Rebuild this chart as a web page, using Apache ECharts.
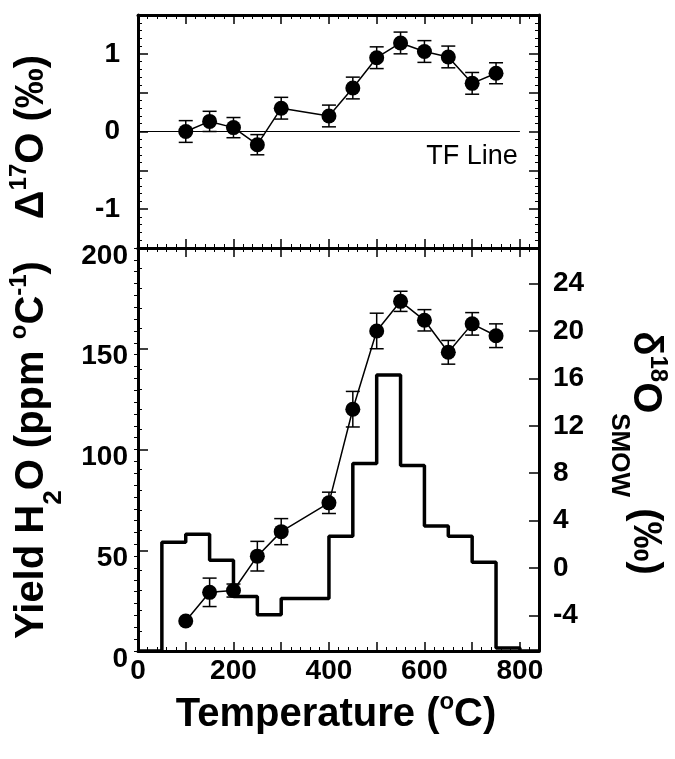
<!DOCTYPE html>
<html>
<head>
<meta charset="utf-8">
<script src="https://cdn.jsdelivr.net/npm/echarts@6/dist/echarts.min.js"></script>
<style>
  html, body { margin: 0; padding: 0; background: #fff; }
  #chart { width: 675px; height: 759px; }
</style>
</head>
<body>
<div id="chart"></div>
<script>
// step temperatures (°C)
const temps = [100, 150, 200, 250, 300, 400, 450, 500, 550, 600, 650, 700, 750];
// Δ17O (‰) and its error
const d17 = [0.00, 0.13, 0.05, -0.17, 0.30, 0.20, 0.56, 0.95, 1.14, 1.03, 0.96, 0.62, 0.75];
const d17Err = [0.14, 0.13, 0.13, 0.13, 0.14, 0.14, 0.14, 0.14, 0.14, 0.14, 0.14, 0.14, 0.135];
// δ18O SMOW (‰) and its error
const d18 = [-4.47, -2.05, -1.9, 1.0, 3.07, 5.5, 13.4, 20.0, 22.5, 20.9, 18.2, 20.6, 19.6];
const d18Err = [0, 1.2, 0.55, 1.25, 1.1, 0.9, 1.5, 1.5, 0.85, 0.9, 1.0, 0.95, 1.0];
// water yield histogram, bin starts (°C) and yield (ppm/°C)
const histTemp = [0, 50, 100, 150, 200, 250, 300, 400, 450, 500, 550, 600, 650, 700, 750, 800, 840];
const histYield = [0, 54, 58, 45, 27, 18, 26, 57, 93, 137, 92, 62, 57, 44, 1.5, 0, 0];
// terrestrial fractionation line
const tfLine = [[0, 0], [800, 0]];
// right axis tick labels
const d18Ticks = [-4, 0, 4, 8, 12, 16, 20, 24];
const d18Minor = [];
for (let v = -7; v <= 27; v++) d18Minor.push(v);

const FONT = "'Liberation Sans', Arial, sans-serif";
const chart = echarts.init(document.getElementById('chart'));

const lineW = 3;
const tickFont = { color: '#000', fontFamily: FONT, fontWeight: 'bold', fontSize: 28 };

function xAx(grid, pos, labels) {
  return {
    gridIndex: grid, type: 'value', position: pos, min: 0, max: 840, interval: 100,
    axisLine: { show: true, onZero: false, lineStyle: { color: '#000', width: lineW } },
    axisTick: { show: true, inside: true, length: 9, lineStyle: { color: '#000', width: 1.5 } },
    minorTick: { show: true, splitNumber: 5, length: 4, lineStyle: { color: '#000', width: 1 } },
    splitLine: { show: false },
    axisLabel: Object.assign({
      show: labels, margin: 6, showMaxLabel: false,
      formatter: v => (v % 200 === 0 ? String(v) : '')
    }, tickFont)
  };
}

// error bar renderer
function errBars(params, api) {
  const x = api.value(0), y = api.value(1), e = api.value(2);
  if (!e) return null;
  const top = api.coord([x, y + e]);
  const bot = api.coord([x, y - e]);
  const h = 7;
  const st = { stroke: '#000', lineWidth: 1.5 };
  return {
    type: 'group',
    children: [
      { type: 'line', shape: { x1: top[0], y1: top[1], x2: bot[0], y2: bot[1] }, style: st },
      { type: 'line', shape: { x1: top[0] - h, y1: top[1], x2: top[0] + h, y2: top[1] }, style: st },
      { type: 'line', shape: { x1: bot[0] - h, y1: bot[1], x2: bot[0] + h, y2: bot[1] }, style: st }
    ]
  };
}

function makeRich(subShift) {
  return {
    b: { fontSize: 40, fontWeight: 'bold', fontFamily: FONT, verticalAlign: 'middle' },
    sup: { fontSize: 24, fontWeight: 'bold', fontFamily: FONT, verticalAlign: 'middle', padding: [0, 0, 26, 0] },
    sub: { fontSize: 26, fontWeight: 'bold', fontFamily: FONT, verticalAlign: 'middle', padding: [subShift * 2, 0, 0, 0] }
  };
}

const option = {
  backgroundColor: '#fff',
  animation: false,
  grid: [
    { left: 138, top: 15, width: 401, height: 233 },
    { left: 138, top: 248, width: 401, height: 403 }
  ],
  xAxis: [
    xAx(0, 'bottom', false),
    xAx(0, 'top', false),
    xAx(1, 'bottom', true),
    xAx(1, 'top', false)
  ],
  yAxis: [
    {
      gridIndex: 0, type: 'value', position: 'left', min: -1.5, max: 1.5, interval: 0.5,
      axisLine: { show: true, onZero: false, lineStyle: { color: '#000', width: lineW } },
      axisTick: { inside: true, length: 10, lineStyle: { color: '#000', width: 1.5 } },
      minorTick: { show: true, splitNumber: 5, length: 4, lineStyle: { color: '#000', width: 1 } },
      splitLine: { show: false },
      axisLabel: Object.assign({
        margin: 18, formatter: v => (Math.abs(v % 1) < 1e-9 && Math.abs(v) < 1.2 ? String(v) : '')
      }, tickFont)
    },
    {
      gridIndex: 0, type: 'value', position: 'right', min: -1.5, max: 1.5, interval: 0.5,
      axisLine: { show: true, onZero: false, lineStyle: { color: '#000', width: lineW } },
      axisTick: { inside: true, length: 10, lineStyle: { color: '#000', width: 1.5 } },
      minorTick: { show: true, splitNumber: 5, length: 4, lineStyle: { color: '#000', width: 1 } },
      splitLine: { show: false },
      axisLabel: { show: false }
    },
    {
      gridIndex: 1, type: 'value', position: 'left', min: 0, max: 200, interval: 50,
      axisLine: { show: true, onZero: false, lineStyle: { color: '#000', width: lineW } },
      axisTick: { inside: true, length: 10, lineStyle: { color: '#000', width: 1.5 } },
      minorTick: { show: true, splitNumber: 5, length: 4, lineStyle: { color: '#000', width: 1 } },
      splitLine: { show: false },
      axisLabel: Object.assign({
        margin: 10,
        formatter: v => '{d|' + v + '}',
        rich: { d: { fontSize: 28, fontWeight: 'bold', fontFamily: FONT, color: '#000', padding: [16, 0, 0, 0] } }
      }, tickFont)
    },
    {
      gridIndex: 1, type: 'value', position: 'right', min: -7, max: 27,
      axisLine: { show: true, onZero: false, lineStyle: { color: '#000', width: lineW } },
      axisTick: { inside: true, length: 10, customValues: d18Ticks, lineStyle: { color: '#000', width: 1.5 } },
      splitLine: { show: false },
      axisLabel: Object.assign({ customValues: d18Ticks, margin: 14 }, tickFont)
    },
    {
      gridIndex: 1, type: 'value', position: 'right', min: -7, max: 27,
      axisLine: { show: false },
      axisTick: { inside: true, length: 4, customValues: d18Minor, lineStyle: { color: '#000', width: 1 } },
      splitLine: { show: false },
      axisLabel: { show: false }
    }
  ],
  series: [
    {
      type: 'line', xAxisIndex: 0, yAxisIndex: 0, data: tfLine, symbol: 'none',
      lineStyle: { color: '#000', width: 1.2 }, silent: true
    },
    {
      type: 'custom', xAxisIndex: 0, yAxisIndex: 0, renderItem: errBars,
      data: temps.map((t, i) => [t, d17[i], d17Err[i]]), z: 3
    },
    {
      type: 'line', xAxisIndex: 0, yAxisIndex: 0, data: temps.map((t, i) => [t, d17[i]]),
      symbol: 'circle', symbolSize: 15, itemStyle: { color: '#000' },
      lineStyle: { color: '#000', width: 1.5 }, z: 4
    },
    {
      type: 'line', xAxisIndex: 2, yAxisIndex: 2, step: 'end',
      data: histTemp.map((t, i) => [t, histYield[i]]), symbol: 'none',
      lineStyle: { color: '#000', width: 3.5 }, z: 2
    },
    {
      type: 'custom', xAxisIndex: 2, yAxisIndex: 3, renderItem: errBars,
      data: temps.map((t, i) => [t, d18[i], d18Err[i]]), z: 3
    },
    {
      type: 'line', xAxisIndex: 2, yAxisIndex: 3, data: temps.map((t, i) => [t, d18[i]]),
      symbol: 'circle', symbolSize: 15, itemStyle: { color: '#000' },
      lineStyle: { color: '#000', width: 1.5 }, z: 4
    }
  ],
  graphic: [
    {
      type: 'text', x: 472, y: 157,
      style: { text: 'TF Line', fill: '#000', font: "27px 'Liberation Sans', Arial, sans-serif", align: 'center', verticalAlign: 'middle' }
    },
    {
      type: 'text', x: 32, y: 137, rotation: Math.PI / 2,
      style: { text: '{b|Δ}{sup|17}{b|O (‰)}', rich: makeRich(22), fill: '#000', align: 'center', verticalAlign: 'middle' }
    },
    {
      type: 'text', x: 32, y: 450, rotation: Math.PI / 2,
      style: { text: '{b|Yield H}{sub|2}{b|O (ppm }{sup|o}{b|C}{sup|-1}{b|)}', rich: makeRich(22), fill: '#000', align: 'center', verticalAlign: 'middle' }
    },
    {
      type: 'text', x: 645, y: 453, rotation: -Math.PI / 2,
      style: { text: '{b|δ}{sup|18}{b|O}{sub|SMOW}{b| (‰)}', rich: makeRich(26), fill: '#000', align: 'center', verticalAlign: 'middle' }
    },
    {
      type: 'text', x: 336, y: 715,
      style: { text: '{b|Temperature (}{sup|o}{b|C)}', rich: makeRich(22), fill: '#000', align: 'center', verticalAlign: 'middle' }
    }
  ]
};

chart.setOption(option);
</script>
</body>
</html>
